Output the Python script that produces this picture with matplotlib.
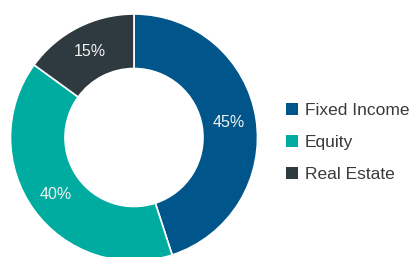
import matplotlib
matplotlib.use("Agg")
import matplotlib.pyplot as plt

categories = ["Fixed Income", "Equity", "Real Estate"]
values = [45, 40, 15]
colors = ["#00568A", "#00AC9F", "#2E3A40"]

plt.rcParams['font.family'] = ['Liberation Sans', 'DejaVu Sans']

W, H = 414, 257
fig = plt.figure(figsize=(W/100, H/100), dpi=100)
cx, cy, R, r_in = 134, 137.5, 123.5, 69
ax = fig.add_axes([(cx-R)/W, (H-cy-R)/H, 2*R/W, 2*R/H])
wedges, texts, autotexts = ax.pie(
    values, colors=colors, startangle=90, counterclock=False,
    radius=1, autopct=lambda p: f"{p:.0f}%", pctdistance=0.78,
    wedgeprops=dict(width=1-r_in/R, edgecolor="white", linewidth=1.2),
    textprops=dict(color="#f2f2f2", fontsize=11.5))
ax.set_xlim(-1, 1)
ax.set_ylim(-1, 1)
ax.set_aspect('equal')
ax.axis('off')

leg = fig.legend(wedges, categories, loc='center left',
                 bbox_to_anchor=(286/W, 1-142.5/H), bbox_transform=fig.transFigure,
                 frameon=False, borderpad=0, borderaxespad=0,
                 handlelength=0.7, handleheight=0.7, handletextpad=0.4,
                 labelspacing=0.95, fontsize=12.5, labelcolor="#3a3a3a")
for h in leg.legend_handles:
    h.set_edgecolor('none')

fig.savefig("out.png", dpi=100)
